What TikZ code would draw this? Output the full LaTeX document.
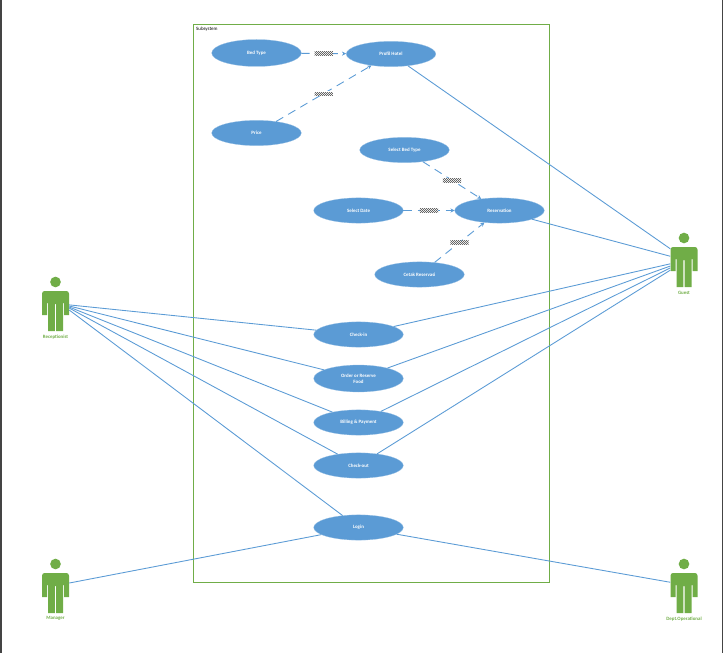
\documentclass[tikz,border=0pt]{standalone}
\usepackage{fontspec}
\setmainfont{Carlito}
\usetikzlibrary{positioning,arrows.meta,shapes.geometric,patterns}
\definecolor{caseBlue}{HTML}{5B9BD5}
\definecolor{actorGreen}{HTML}{70AD47}
\definecolor{pageEdge}{HTML}{444444}
\pgfdeclarepatternformonly{labeldots}{\pgfqpoint{0pt}{0pt}}{\pgfqpoint{1.7pt}{1.7pt}}{\pgfqpoint{1.7pt}{1.7pt}}{
    \pgfpathrectangle{\pgfqpoint{0pt}{0pt}}{\pgfqpoint{.85pt}{.85pt}}
    \pgfpathrectangle{\pgfqpoint{.85pt}{.85pt}}{\pgfqpoint{.85pt}{.85pt}}
    \pgfusepath{fill}
}
\tikzset{
    usecase/.style={ellipse,draw=caseBlue!60,line width=0.2pt,fill=caseBlue,inner sep=0pt,
        minimum width=2.69cm,minimum height=0.76cm,align=center,text=white,
        font=\fontsize{4.2}{4.8}\selectfont\bfseries},
    boundary/.style={draw=actorGreen,line width=0.8pt,minimum width=10.68cm,minimum height=16.74cm},
    actorbox/.style={inner sep=0pt,minimum width=0.81cm,minimum height=1.20cm},
    actorname/.style={text=actorGreen,inner sep=0pt,font=\fontsize{4.2}{4.8}\selectfont\bfseries},
    assoc/.style={draw=caseBlue,line width=0.75pt},
    dashflow/.style={-{Stealth[length=3.5pt,width=3.5pt]},draw=caseBlue,line width=0.75pt,
        dash pattern=on 7pt off 5pt},
    hatchlabel/.style={inner sep=0pt,minimum width=0.55cm,minimum height=0.12cm,
        preaction={fill=white},pattern=labeldots,pattern color=black!60},
    actorfig/.pic={
        \fill[actorGreen] (0,0.87) circle (0.16);
        \fill[actorGreen] (-0.405,-0.12) -- (-0.405,0.52) to[out=90,in=180] (-0.33,0.60)
            -- (0.33,0.60) to[out=0,in=90] (0.405,0.52) -- (0.405,-0.12) -- (0.255,-0.12)
            -- (0.255,0.24) -- (0.225,0.24) -- (0.225,-0.60) -- (0.02,-0.60) -- (0.02,0.21)
            -- (-0.02,0.21) -- (-0.02,-0.60) -- (-0.225,-0.60) -- (-0.225,0.24)
            -- (-0.255,0.24) -- (-0.255,-0.12) -- cycle;
    }
}

\begin{document}
\begin{tikzpicture}
    \useasboundingbox (0,0) rectangle (21.69,19.59);
    \fill[pageEdge] (0,0) rectangle (0.05,19.59);
    \fill[pageEdge] (21.66,0) rectangle (21.69,19.59);

    \node[boundary] (frame) at (11.145,10.485) {};
    \node[anchor=north west,inner sep=0pt,font=\fontsize{4.2}{4.8}\selectfont] (frametitle)
        at (5.88,18.79) {Subsystem};

    % use cases
    \node[usecase,minimum height=0.81cm] (bedtype) at (7.695,18.00) {Bed Type};
    \node[usecase] (profil) at (11.73,17.97) {Profil Hotel};
    \node[usecase] (price) at (7.695,15.60) {Price};
    \node[usecase] (selbed) at (12.135,15.09) {Select Bed Type};
    \node[usecase] (seldate) at (10.755,13.275) {Select Date};
    \node[usecase] (reserv) at (14.985,13.275) {Reservation};
    \node[usecase] (cetak) at (12.585,11.355) {Cetak Reservasi};
    \node[usecase] (checkin) at (10.755,9.555) {Check-in};
    \node[usecase,minimum height=0.81cm] (order) at (10.755,8.235) {Order or Reserve\\Food};
    \node[usecase] (billing) at (10.755,6.915) {Billing \& Payment};
    \node[usecase] (checkout) at (10.755,5.625) {Check-out};
    \node[usecase] (login) at (10.755,3.765) {Login};

    % actors
    \node[actorbox] (recep) at (1.665,10.26) {};
    \node[actorbox] (guest) at (20.52,11.58) {};
    \node[actorbox] (manager) at (1.665,1.80) {};
    \node[actorbox] (dept) at (20.52,1.80) {};
    \pic at (recep) {actorfig};
    \pic at (guest) {actorfig};
    \pic at (manager) {actorfig};
    \pic at (dept) {actorfig};
    \node[actorname,below=0.1cm of recep] (recepname) {Receptionist};
    \node[actorname,below=0.1cm of guest] (guestname) {Guest};
    \node[actorname,below=0.1cm of manager] (managername) {Manager};
    \node[actorname,below=0.1cm of dept] (deptname) {Dept.Operational};

    \draw[dashflow] (bedtype) -- node[hatchlabel] (tagbed) {} (profil);
    \draw[dashflow] (price) -- node[hatchlabel] (tagprice) {} (profil);
    \draw[dashflow] (selbed) -- node[hatchlabel] (tagselbed) {} (reserv);
    \draw[dashflow] (seldate) -- node[hatchlabel] (tagdate) {} (reserv);
    \draw[dashflow] (cetak) -- node[hatchlabel] (tagcetak) {} (reserv);

    \draw[assoc] (recep.24) -- (checkin);
    \draw[assoc] (recep.20) -- (order);
    \draw[assoc] (recep.16) -- (billing);
    \draw[assoc] (recep.12) -- (checkout);
    \draw[assoc] (recep.4) -- (login);

    \draw[assoc] (profil) -- (guest.127);
    \draw[assoc] (reserv) -- (guest.142);
    \draw[assoc] (checkin) -- (guest.167);
    \draw[assoc] (order) -- (guest.176);
    \draw[assoc] (billing) -- (guest.184);
    \draw[assoc] (checkout) -- (guest.193);

    \draw[assoc] (manager.36) -- (login);
    \draw[assoc] (login) -- (dept.142);
\end{tikzpicture}
\end{document}
